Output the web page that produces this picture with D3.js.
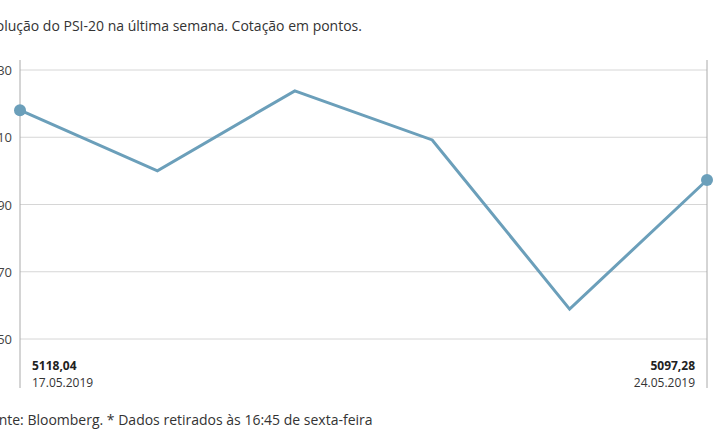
<!DOCTYPE html>
<html><head><meta charset="utf-8">
<script src="https://cdn.jsdelivr.net/npm/d3@7"></script>
<style>body{margin:0;background:#fff;overflow:hidden}text{font-family:"Open Sans",sans-serif}</style>
</head><body>
<svg id="c" width="715" height="445"></svg>
<script>
const dates = ["17.05.2019", "20.05.2019", "21.05.2019", "22.05.2019", "23.05.2019", "24.05.2019"];
const values = [5118.04, 5100, 5123.8, 5109.2, 5058.9, 5097.28];
const ticks = [5130, 5110, 5090, 5070, 5050];
const labels = ["5118,04", "5097,28"];

const svg = d3.select("#c");
const x = d3.scalePoint().domain(dates).range([20, 707]);
const y = d3.scaleLinear().domain([5050, 5130]).range([339, 70]);
const col = "#6b9fba";

svg.append("text").attr("x", -19).attr("y", 31).attr("font-size", 14).attr("fill", "#333")
  .text("Evolução do PSI-20 na última semana. Cotação em pontos.");

// gridlines
svg.append("g").selectAll("line").data(ticks).join("line")
  .attr("x1", 20).attr("x2", 707).attr("y1", d => y(d)).attr("y2", d => y(d))
  .attr("stroke", "#d6d6d6");
svg.append("g").selectAll("text").data(ticks).join("text")
  .attr("x", 12).attr("y", d => y(d) + 5).attr("text-anchor", "end")
  .attr("font-size", 13).attr("fill", "#444").text(d => d);

svg.append("line").attr("x1", 20).attr("x2", 20).attr("y1", 60).attr("y2", 388).attr("stroke", "#aaa");
svg.append("line").attr("x1", 707).attr("x2", 707).attr("y1", 60).attr("y2", 388).attr("stroke", "#aaa");

const line = d3.line().x((d, i) => x(dates[i])).y(d => y(d));
svg.append("path").datum(values).attr("d", line).attr("fill", "none")
  .attr("stroke", col).attr("stroke-width", 3).attr("stroke-linejoin", "miter");
svg.selectAll("circle").data([0, 5]).join("circle")
  .attr("cx", i => x(dates[i])).attr("cy", i => y(values[i])).attr("r", 6).attr("fill", col);

svg.append("text").attr("x", 32).attr("y", 370).attr("font-size", 12).attr("font-weight", "bold").attr("fill", "#222").text(labels[0]);
svg.append("text").attr("x", 32).attr("y", 387).attr("font-size", 12).attr("fill", "#333").text(dates[0]);
svg.append("text").attr("x", 695).attr("y", 370).attr("text-anchor", "end").attr("font-size", 12).attr("font-weight", "bold").attr("fill", "#222").text(labels[1]);
svg.append("text").attr("x", 695).attr("y", 387).attr("text-anchor", "end").attr("font-size", 12).attr("fill", "#333").text(dates[5]);

svg.append("text").attr("x", -17).attr("y", 425).attr("font-size", 14).attr("fill", "#333")
  .text("Fonte: Bloomberg.  * Dados retirados às 16:45 de sexta-feira");
</script>
</body></html>
